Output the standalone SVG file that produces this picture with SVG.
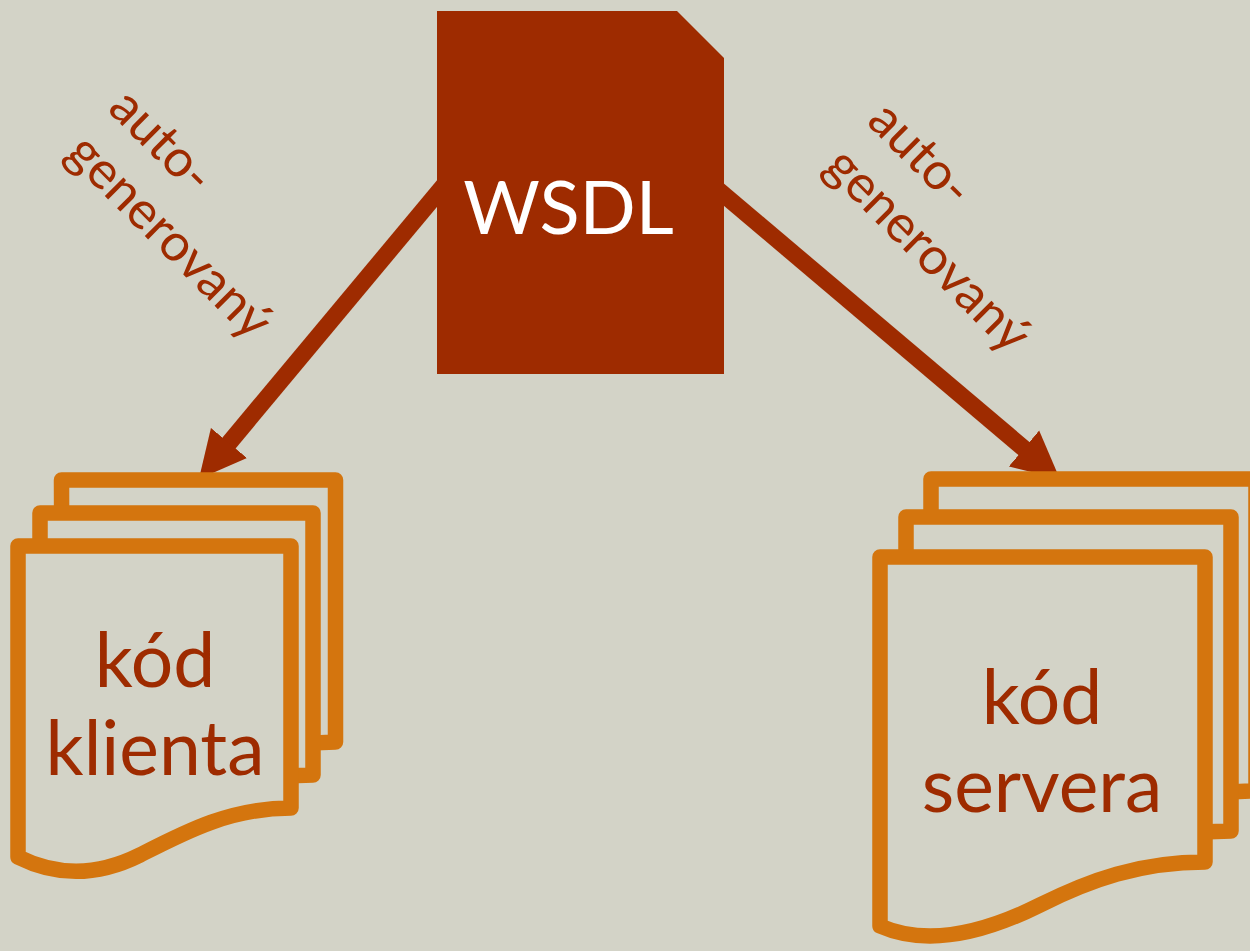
<svg xmlns="http://www.w3.org/2000/svg" width="1250" height="951" viewBox="0 0 1250 951">
<defs>
<style>
.page{fill:#D3D3C7;stroke:#D4750E;stroke-width:15.5;stroke-linejoin:round}
.lbl{font-family:Lato,"Open Sans","DejaVu Sans",sans-serif;fill:#9E2B00}
.big{font-size:75px;text-anchor:middle}
.rot{font-size:52px}
.arrow{stroke:#9E2B00;stroke-width:17;fill:none}
</style>
<marker id="head" markerUnits="userSpaceOnUse" markerWidth="48" markerHeight="48" refX="10" refY="23.5" orient="auto" viewBox="0 0 48 47">
<path d="M0,0 L47,23.5 L0,47 Z" fill="#9E2B00"/>
</marker>
</defs>
<rect width="1250" height="951" fill="#D3D3C7"/>
<g id="connectors">
<line class="arrow" x1="445" y1="184" x2="222.6" y2="450.7" marker-end="url(#head)"/>
<line class="arrow" x1="716" y1="188" x2="1031.6" y2="455" marker-end="url(#head)"/>
</g>
<g id="wsdl">
<polygon points="437,11 677,11 724,58 724,374 437,374" fill="#9E2B00"/>
<text x="568.5" y="234" font-family="Lato,'Open Sans',sans-serif" font-size="74" fill="#FFFFFF" text-anchor="middle">WSDL</text>
</g>
<g id="label-left" class="lbl rot" transform="translate(106.5,110) rotate(45)">
<text x="0" y="0">auto-</text>
<text x="2" y="62">generovaný</text>
</g>
<g id="label-right" class="lbl rot" transform="translate(865.5,122.7) rotate(45)">
<text x="0" y="0">auto-</text>
<text x="2" y="63">generovaný</text>
</g>
<g id="client-code">
<path class="page" d="M61.5,480 H335.5 V742 c-61,0 -106,24 -151,47 c-40,20 -80,23 -122,2 Z"/>
<path class="page" d="M40,513 H313 V775 c-61,0 -106,24 -151,47 c-40,20 -80,23 -122,2 Z"/>
<path class="page" d="M18,546 H291 V808 c-61,0 -106,24 -151,47 c-40,20 -80,23 -122,2 Z"/>
<text class="lbl big" x="155" y="687">kód</text>
<text class="lbl big" x="155" y="775">klienta</text>
</g>
<g id="server-code">
<path class="page" d="M931,479 H1256 V791 c-65,0 -115,18 -165,43 c-50,25 -110,43 -160,21 Z"/>
<path class="page" d="M906,517 H1231 V831 c-65,0 -115,18 -165,43 c-50,25 -110,43 -160,21 Z"/>
<path class="page" d="M880,557 H1205 V862 c-65,0 -115,18 -165,43 c-50,25 -110,43 -160,21 Z"/>
<text class="lbl big" x="1042" y="724">kód</text>
<text class="lbl big" x="1042" y="812">servera</text>
</g>
</svg>
